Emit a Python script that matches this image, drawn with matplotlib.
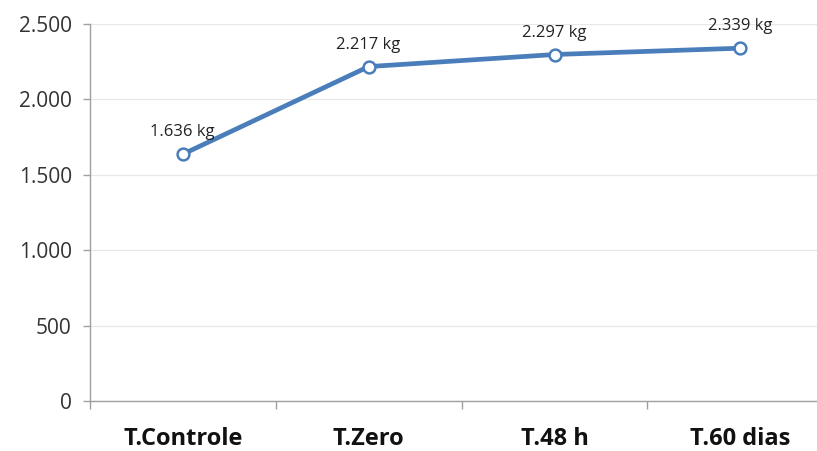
import numpy as np
from matplotlib import pyplot as plt
from matplotlib.ticker import FuncFormatter

categories = ['T.Controle', 'T.Zero', 'T.48 h', 'T.60 dias']
weights = [1636, 2217, 2297, 2339]
labels = ['1.636 kg', '2.217 kg', '2.297 kg', '2.339 kg']

plt.rcParams['font.family'] = ['Open Sans', 'DejaVu Sans']

fig = plt.figure(figsize=(8.17, 4.51), dpi=100)
ax = fig.add_axes([0.110, 0.111, 0.910, 0.836])

x = np.arange(len(categories))
ax.plot(x, weights, color='#4a7ebb', linewidth=3.4, marker='o', markersize=8.5,
        markerfacecolor='white', markeredgecolor='#4a7ebb', markeredgewidth=1.8,
        solid_capstyle='round', zorder=3)

for xi, w, lab in zip(x, weights, labels):
    ax.annotate(lab, (xi, w), xytext=(0, 10), textcoords='offset points',
                ha='center', va='bottom', fontsize=12, color='#222222')

ax.set_xlim(-0.5, len(categories) - 0.5)
ax.set_ylim(0, 2500)
ax.set_yticks(np.arange(0, 2501, 500))
ax.yaxis.set_major_formatter(FuncFormatter(lambda v, p: f'{int(v):,}'.replace(',', '.')))
ax.grid(axis='y', color='#e8e8e8', linewidth=0.9)
ax.set_axisbelow(True)

ax.set_xticks(x)
ax.set_xticklabels(categories, fontsize=17, fontweight='bold', color='#111111')
ax.set_xticks(np.arange(-0.5, len(categories), 1), minor=True)
ax.tick_params(axis='x', which='major', length=0, pad=19)
ax.tick_params(axis='x', which='minor', length=6, color='#a0a0a0', width=1)
ax.tick_params(axis='y', length=5, color='#a0a0a0', width=1, labelsize=15,
               labelcolor='#333333', pad=8)

for side in ['top', 'right']:
    ax.spines[side].set_visible(False)
for side in ['left', 'bottom']:
    ax.spines[side].set_color('#a0a0a0')
    ax.spines[side].set_linewidth(1)

fig.savefig('out.png', dpi=100)
